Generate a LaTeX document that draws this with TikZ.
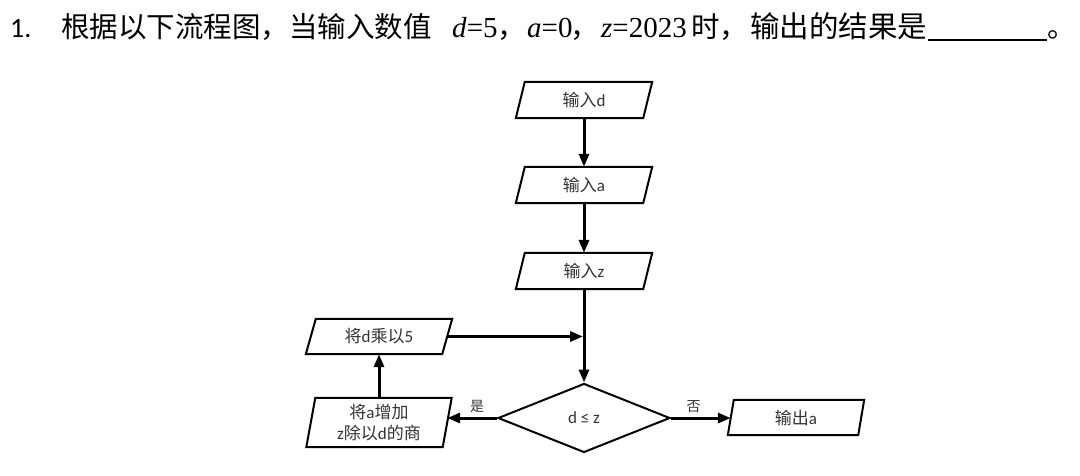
\documentclass[tikz,border=0pt]{standalone}
\usepackage{fontspec}
\setmainfont{Liberation Serif}
\newfontfamily\cjk{Noto Sans CJK SC}
\newfontfamily\carl{Carlito}
\usetikzlibrary{shapes.geometric,arrows.meta,calc}
\newcommand\zh[1]{{\cjk #1}}
\newcommand\pgram[7]{%
  \node[txt, minimum width=#4pt, minimum height=#5pt, align=center] (#1) at (#2,#3) {#7};
  \draw[box] ($(#1.north west)+(#6/2,0)$) -- ($(#1.north east)+(#6/2,0)$) -- ($(#1.south east)-(#6/2,0)$) -- ($(#1.south west)-(#6/2,0)$) -- cycle;}
\begin{document}
\begin{tikzpicture}[x=1pt,y=-1pt,
  box/.style={line width=2pt, line join=miter},
  arr/.style={line width=3pt,-{Triangle[length=13pt,width=10pt]}},
  txt/.style={font=\carl\fontsize{17}{21}\selectfont, inner sep=0pt, text=black!80},
  lbl/.style={font=\cjk\fontsize{14}{16}\selectfont, inner sep=0pt, text=black!80},
  title/.style={anchor=base west, inner sep=0pt, font=\fontsize{29}{32}\selectfont},
  zhtitle/.style={title, font=\cjk\fontsize{28.5}{32}\selectfont}]
\useasboundingbox[fill=white] (0,0) rectangle (1080,475);
% title
\node[title, font=\carl\fontsize{28}{32}\selectfont] (num) at (10,37) {1.};
\node[zhtitle] (q1) at (61,37) {根据以下流程图，当输入数值};
\node[title] (v1) at (452,37) {\textit{d}=5};
\node[zhtitle] (c1) at (497,37) {，};
\node[title] (v2) at (527,37) {\textit{a}=0};
\node[zhtitle] (c2) at (570,37) {，};
\node[title] (v3) at (601,37) {\textit{z}=2023};
\node[zhtitle] (q2) at (691,37) {时，};
\node[zhtitle, font=\cjk\fontsize{29.5}{32}\selectfont] (q3) at (750,37) {输出的结果是};
\coordinate (u1) at (928,40);
\coordinate (u2) at (1047,40);
\draw[line width=1.4pt] (u1) -- (u2);
\node[zhtitle] (q4) at (1047,37) {。};
% flowchart
\pgram{in1}{584}{100}{127}{36}{9}{\zh{输入}d}
\pgram{in2}{584}{185}{127}{36}{9}{\zh{输入}a}
\pgram{in3}{584}{271}{127}{36}{9}{\zh{输入}z}
\node[diamond, draw, box, minimum width=172pt, minimum height=69pt, inner sep=0pt, txt] (dia) at (584,418) {d ≤ z};
\pgram{mul}{379}{336.5}{136}{35}{10}{\zh{将}d\zh{乘以}5}
\pgram{add}{379}{422.5}{136}{49}{9}{\zh{将}a\zh{增加}\\z\zh{除以}d\zh{的商}}
\pgram{out}{796}{417.5}{130}{35}{6}{\zh{输出}a}
\draw[arr] (in1.south) -- (in2.north);
\draw[arr] (in2.south) -- (in3.north);
\draw[arr] (in3.south) -- (dia.north);
\draw[arr] (dia.west) -- node[lbl, pos=0.4, above=4pt] (yes) {是} (dia.west -| add.east);
\draw[arr] (dia.east) -- node[lbl, pos=0.38, above=4pt] (no) {否} (dia.east -| out.west);
\draw[arr] (add.north) -- (mul.south);
\draw[arr] (mul.east) -- ($(mul.east -| in3.south)+(-1,0)$);
\end{tikzpicture}
\end{document}
